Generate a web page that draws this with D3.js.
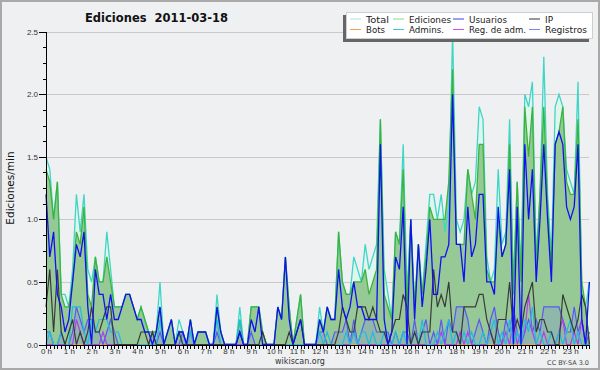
<!DOCTYPE html>
<html>
<head>
<meta charset="utf-8">
<title>Ediciones 2011-03-18</title>
<script src="https://d3js.org/d3.v7.min.js"></script>
<style>
  body { margin: 0; background: #eff0f2; }
  svg  { display: block; font-family: "DejaVu Sans", sans-serif; }
  .axis path, .axis line { stroke: #000; shape-rendering: crispEdges; }
  .axis text { fill: #333; font-size: 8px; }
  .grid line { stroke: #c9c9c9; shape-rendering: crispEdges; }
  .legend text { font-size: 9.5px; fill: #222; }
</style>
</head>
<body>
<script>
// 10-minute steps, edits per minute, 6 values per hour (0 h .. 23 h)
var hourLabels = d3.range(24).map(h => h + " h");
var yTicks = [0, 0.5, 1.0, 1.5, 2.0, 2.5];

var total = [
  1.5,1.4,1.0,1.3,0.4,0.4,  0.3,0.6,1.2,0.9,1.2,0.6,  0.5,0.7,0.5,0.5,0.9,0.6,  0.3,0.3,0.3,0.4,0.4,0.3,
  0.2,0.3,0.2,0.1,0.1,0.1,  0.5,0.0,0.1,0.2,0.0,0.2,  0.1,0.0,0.2,0.0,0.1,0.1,  0.1,0.0,0.0,0.4,0.1,0.0,
  0.0,0.0,0.0,0.3,0.0,0.0,  0.3,0.3,0.3,0.1,0.0,0.0,  0.0,0.3,0.2,0.7,0.3,0.0,  0.2,0.4,0.0,0.0,0.0,0.0,
  0.3,0.1,0.3,0.2,0.2,0.9,  0.5,0.4,0.4,0.7,0.6,0.5,  0.8,0.6,0.7,0.8,1.8,0.6,  0.4,0.2,0.9,0.8,1.6,0.4,
  1.0,0.3,0.8,0.4,0.8,1.2,  1.2,1.0,1.2,0.9,1.1,2.5,  1.0,0.9,1.0,1.4,1.2,1.3,  1.9,1.8,0.7,0.5,0.6,1.4,
  0.8,0.9,1.8,0.5,1.3,0.6,  2.0,1.9,2.1,0.7,1.2,2.3,  1.2,0.7,1.9,2.0,1.9,1.4,  1.3,1.2,2.1,0.4,0.3,0.5
];
var ediciones = [
  1.4,1.3,1.0,1.3,0.4,0.3,  0.3,0.5,0.9,0.8,1.1,0.4,  0.3,0.7,0.5,0.5,0.7,0.5,  0.3,0.3,0.3,0.4,0.4,0.3,
  0.2,0.3,0.2,0.1,0.1,0.1,  0.3,0.0,0.1,0.2,0.0,0.1,  0.1,0.0,0.2,0.0,0.1,0.1,  0.1,0.0,0.0,0.3,0.1,0.0,
  0.0,0.0,0.0,0.2,0.0,0.0,  0.3,0.3,0.3,0.1,0.0,0.0,  0.0,0.3,0.2,0.7,0.3,0.0,  0.2,0.4,0.0,0.0,0.0,0.0,
  0.2,0.1,0.3,0.2,0.2,0.9,  0.5,0.4,0.4,0.5,0.5,0.5,  0.6,0.4,0.5,0.6,1.8,0.4,  0.3,0.2,0.9,0.8,1.4,0.3,
  1.0,0.3,0.8,0.4,0.7,1.1,  1.0,1.0,1.0,1.0,1.3,2.2,  0.8,0.8,0.8,1.4,1.2,1.0,  1.6,1.6,0.6,0.5,0.5,1.0,
  0.7,0.8,1.6,0.4,1.3,0.5,  1.9,1.5,1.9,0.6,1.2,1.9,  1.1,0.6,1.6,1.7,1.9,1.3,  1.2,1.2,1.8,0.5,0.3,0.0
];
var usuarios = [
  1.2,0.7,0.9,0.4,0.3,0.1,  0.2,0.5,0.8,0.7,0.9,0.3,  0.0,0.6,0.4,0.4,0.2,0.4,  0.2,0.2,0.3,0.4,0.4,0.3,
  0.2,0.2,0.1,0.1,0.0,0.1,  0.3,0.0,0.1,0.2,0.0,0.1,  0.1,0.0,0.2,0.0,0.1,0.1,  0.1,0.0,0.0,0.3,0.1,0.0,
  0.0,0.0,0.0,0.1,0.0,0.0,  0.2,0.1,0.3,0.0,0.0,0.0,  0.0,0.3,0.2,0.7,0.2,0.0,  0.1,0.2,0.0,0.0,0.0,0.0,
  0.2,0.1,0.3,0.2,0.2,0.6,  0.3,0.2,0.3,0.5,0.3,0.3,  0.2,0.2,0.2,0.2,1.6,0.2,  0.0,0.1,0.7,0.6,1.1,0.0,
  1.0,0.2,0.8,0.3,0.6,1.0,  0.4,0.4,0.7,0.7,0.8,2.0,  0.8,0.8,0.5,1.1,0.7,0.8,  1.2,1.2,0.5,0.5,0.4,1.1,
  0.7,0.8,1.4,0.0,1.1,0.0,  1.6,1.0,1.4,0.5,1.0,1.6,  1.0,0.5,1.6,1.7,1.6,1.1,  1.0,1.1,1.6,0.2,0.0,0.5
];
var ip = [
  0.3,0.6,0.1,0.6,0.1,0.0,  0.1,0.2,0.0,0.1,0.0,0.1,  0.3,0.1,0.1,0.2,0.3,0.3,  0.0,0.0,0.0,0.0,0.0,0.0,
  0.0,0.1,0.1,0.0,0.1,0.0,  0.0,0.0,0.0,0.0,0.0,0.1,  0.0,0.0,0.0,0.0,0.0,0.0,  0.0,0.0,0.0,0.0,0.0,0.0,
  0.0,0.0,0.0,0.1,0.0,0.0,  0.0,0.0,0.0,0.1,0.0,0.0,  0.0,0.0,0.0,0.0,0.1,0.0,  0.1,0.2,0.0,0.0,0.0,0.0,
  0.0,0.0,0.0,0.0,0.0,0.1,  0.3,0.2,0.1,0.1,0.3,0.3,  0.3,0.2,0.3,0.2,0.1,0.1,  0.0,0.1,0.2,0.2,0.4,0.3,
  0.0,0.1,0.0,0.1,0.1,0.1,  0.6,0.3,0.4,0.3,0.5,0.1,  0.1,0.0,0.3,0.3,0.3,0.3,  0.4,0.4,0.2,0.1,0.0,0.2,
  0.2,0.2,0.5,0.1,0.2,0.1,  0.3,0.4,0.5,0.1,0.2,0.2,  0.1,0.1,0.0,0.0,0.4,0.3,  0.2,0.1,0.2,0.4,0.3,0.0
];
var bots = d3.range(144).map(() => 0);
var admins = [
  0.0,0.1,0.0,0.0,0.1,0.0,  0.0,0.3,0.3,0.3,0.1,0.0,  0.2,0.1,0.2,0.2,0.2,0.1,  0.1,0.1,0.0,0.0,0.0,0.0,
  0.0,0.0,0.0,0.0,0.0,0.0,  0.2,0.0,0.0,0.0,0.0,0.1,  0.0,0.0,0.1,0.0,0.0,0.0,  0.0,0.0,0.0,0.2,0.0,0.0,
  0.0,0.0,0.0,0.2,0.0,0.0,  0.0,0.0,0.0,0.0,0.0,0.0,  0.0,0.0,0.0,0.0,0.0,0.0,  0.0,0.0,0.0,0.0,0.0,0.0,
  0.1,0.0,0.1,0.0,0.0,0.0,  0.0,0.1,0.0,0.1,0.0,0.1,  0.1,0.0,0.1,0.0,0.0,0.1,  0.0,0.0,0.1,0.0,0.1,0.0,
  0.0,0.1,0.0,0.2,0.0,0.0,  0.0,0.1,0.0,0.1,0.2,0.0,  0.1,0.0,0.1,0.0,0.1,0.0,  0.0,0.1,0.0,0.1,0.2,0.0,
  0.1,0.0,0.2,0.0,0.1,0.0,  0.2,0.1,0.3,0.0,0.1,0.0,  0.0,0.1,0.0,0.1,0.0,0.1,  0.2,0.0,0.1,0.0,0.0,0.0
];
var regAdm = [
  0.0,0.0,0.0,0.0,0.0,0.0,  0.0,0.0,0.2,0.1,0.0,0.0,  0.0,0.0,0.0,0.1,0.0,0.0,  0.0,0.0,0.0,0.0,0.0,0.0,
  0.0,0.0,0.0,0.0,0.0,0.0,  0.0,0.0,0.0,0.0,0.0,0.0,  0.0,0.0,0.0,0.0,0.0,0.0,  0.0,0.0,0.0,0.0,0.0,0.0,
  0.0,0.0,0.0,0.0,0.0,0.0,  0.0,0.0,0.0,0.0,0.0,0.0,  0.0,0.0,0.0,0.0,0.0,0.0,  0.0,0.0,0.0,0.0,0.0,0.0,
  0.0,0.0,0.0,0.0,0.0,0.0,  0.0,0.0,0.0,0.1,0.0,0.0,  0.0,0.0,0.0,0.0,0.0,0.0,  0.0,0.0,0.0,0.0,0.0,0.0,
  0.0,0.0,0.0,0.0,0.0,0.0,  0.0,0.0,0.1,0.0,0.0,0.0,  0.0,0.1,0.0,0.1,0.0,0.0,  0.0,0.0,0.0,0.1,0.0,0.0,
  0.0,0.1,0.0,0.2,0.0,0.1,  0.1,0.4,0.1,0.0,0.0,0.1,  0.0,0.0,0.0,0.1,0.2,0.0,  0.0,0.1,0.0,0.2,0.0,0.0
];
var registros = [
  0.1,0.1,0.0,0.0,0.1,0.0,  0.0,0.1,0.3,0.2,0.1,0.2,  0.2,0.1,0.1,0.0,0.1,0.2,  0.1,0.0,0.0,0.0,0.0,0.0,
  0.0,0.0,0.0,0.0,0.1,0.0,  0.1,0.0,0.0,0.0,0.0,0.0,  0.1,0.0,0.1,0.0,0.0,0.0,  0.0,0.0,0.0,0.1,0.0,0.0,
  0.0,0.0,0.0,0.1,0.0,0.0,  0.1,0.0,0.0,0.0,0.0,0.0,  0.0,0.0,0.0,0.0,0.0,0.0,  0.0,0.0,0.0,0.0,0.0,0.0,
  0.1,0.1,0.0,0.0,0.1,0.1,  0.1,0.2,0.0,0.2,0.0,0.1,  0.2,0.2,0.2,0.1,0.1,0.1,  0.1,0.0,0.1,0.0,0.1,0.1,
  0.0,0.2,0.0,0.1,0.2,0.0,  0.1,0.0,0.2,0.0,0.2,0.1,  0.3,0.3,0.3,0.2,0.0,0.1,  0.2,0.1,0.0,0.2,0.3,0.1,
  0.0,0.2,0.1,0.3,0.1,0.0,  0.1,0.2,0.1,0.2,0.1,0.3,  0.3,0.3,0.3,0.3,0.2,0.1,  0.1,0.3,0.1,0.2,0.0,0.1
];

var legendNames  = ["Total", "Ediciones", "Usuarios", "IP", "Bots", "Admins.", "Reg. de adm.", "Registros"];
var legendColors = ["#a6e6de", "#8ed48e", "#3c3ce6", "#333333", "#f7a040", "#3cc6e0", "#d050e0", "#8282f0"];
var legendWidths = [23, 42, 38, 8, 19, 35, 57, 42];

var W = 600, H = 370;
var svg = d3.select("body").append("svg").attr("width", W).attr("height", H);

svg.append("rect").attr("x", 1).attr("y", 1).attr("width", W - 2).attr("height", H - 2)
  .attr("fill", "#eff0f2").attr("stroke", "#a9a9a9").attr("stroke-width", 2);

var x = d3.scaleLinear().domain([0, 143]).range([46, 589.4]);
var y = d3.scaleLinear().domain([0, 2.5]).range([344.5, 31.7]);

// grid
svg.append("g").attr("class", "grid")
  .selectAll("line").data(yTicks.slice(1)).enter().append("line")
  .attr("x1", 46).attr("x2", 589)
  .attr("y1", d => Math.round(y(d)) + 0.5).attr("y2", d => Math.round(y(d)) + 0.5);

var area = vals => d3.area().x((d, i) => x(i)).y0(y(0)).y1(d => y(d))(vals);
var line = vals => d3.line().x((d, i) => x(i)).y(d => y(d))(vals);

svg.append("path").attr("d", area(total)).attr("fill", "#e1f5ef");
svg.append("path").attr("d", area(ediciones)).attr("fill", "#97c997");
svg.append("path").attr("d", area(registros)).attr("fill", "#7f8fd8").attr("opacity", 0.3);

svg.append("path").attr("d", line(total)).attr("fill", "none").attr("stroke", "#3fd6c6").attr("stroke-width", 1.3);
svg.append("path").attr("d", line(ediciones)).attr("fill", "none").attr("stroke", "#3cb43c").attr("stroke-width", 1.3);
svg.append("path").attr("d", line(bots)).attr("fill", "none").attr("stroke", "#f7a040").attr("stroke-width", 1);
svg.append("path").attr("d", line(registros)).attr("fill", "none").attr("stroke", "#5a5af0").attr("stroke-width", 1.2);
svg.append("path").attr("d", line(regAdm)).attr("fill", "none").attr("stroke", "#b040e8").attr("stroke-width", 1.2);
svg.append("path").attr("d", line(admins)).attr("fill", "none").attr("stroke", "#20bce0").attr("stroke-width", 1.2);
svg.append("path").attr("d", line(ip)).attr("fill", "none").attr("stroke", "#3a3a3a").attr("stroke-width", 1.2);
svg.append("path").attr("d", line(usuarios)).attr("fill", "none").attr("stroke", "#1010f0").attr("stroke-width", 1.3);

// axes
svg.append("g").attr("class", "axis")
  .attr("transform", "translate(46,0)")
  .call(d3.axisLeft(y).tickValues(d3.range(0, 2.5001, 0.125)).tickSize(3).tickFormat(""))
  .call(g => g.select(".domain").remove());
svg.append("g").attr("class", "axis")
  .attr("transform", "translate(46,0)")
  .call(d3.axisLeft(y).tickValues(yTicks).tickSize(7).tickSizeOuter(0).tickPadding(1).tickFormat(d3.format(".1f")));

svg.append("g").attr("class", "axis")
  .attr("transform", "translate(0,344.5)")
  .call(d3.axisBottom(x).tickValues(d3.range(0, 144)).tickSize(4).tickSizeOuter(0).tickFormat(""));
svg.append("g").attr("class", "axis")
  .attr("transform", "translate(0,344.5)")
  .call(d3.axisBottom(x).tickValues(d3.range(0, 144, 6)).tickSize(4).tickSizeOuter(0).tickPadding(0)
    .tickFormat(d => hourLabels[d / 6]))
  .call(g => g.select(".domain").remove());

// texts
svg.append("text").attr("x", 85).attr("y", 22)
  .attr("font-size", "11.5px").attr("font-weight", "bold").attr("fill", "#111")
  .attr("xml:space", "preserve").style("white-space", "pre")
  .text("Ediciones  2011-03-18");

svg.append("text").attr("transform", "translate(14,188) rotate(-90)")
  .attr("text-anchor", "middle").attr("font-size", "10.5px").attr("fill", "#111")
  .text("Ediciones/min");

svg.append("text").attr("x", 300).attr("y", 364).attr("text-anchor", "middle")
  .attr("font-size", "8px").attr("fill", "#333").text("wikiscan.org");

svg.append("text").attr("x", 589).attr("y", 365).attr("text-anchor", "end")
  .attr("font-size", "6.5px").attr("fill", "#444").text("CC BY-SA 3.0");

// legend
var leg = svg.append("g").attr("class", "legend");
leg.append("rect").attr("x", 343).attr("y", 15).attr("width", 246).attr("height", 27).attr("fill", "#666");
leg.append("rect").attr("x", 346.5).attr("y", 12.5).attr("width", 246).attr("height", 26)
  .attr("fill", "#fff").attr("stroke", "#cfcfcf");
var colX = [350, 393, 453, 529];
var item = leg.selectAll("g.item").data(legendNames).enter().append("g").attr("class", "item")
  .attr("transform", (d, i) => "translate(" + colX[i % 4] + "," + (i < 4 ? 18.5 : 29) + ")");
item.append("line").attr("x1", 0).attr("x2", 11).attr("y1", 0.5).attr("y2", 0.5)
  .attr("stroke", (d, i) => legendColors[i]).attr("stroke-width", 1);
item.append("text").attr("x", 16).attr("y", 4)
  .attr("textLength", (d, i) => legendWidths[i]).attr("lengthAdjust", "spacingAndGlyphs")
  .text(d => d);
</script>
</body>
</html>
